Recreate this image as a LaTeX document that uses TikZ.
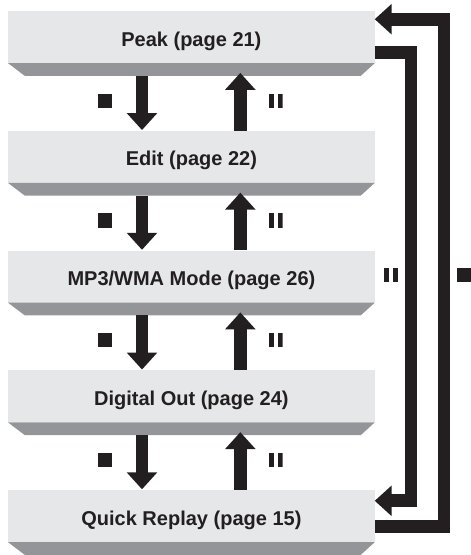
\documentclass[tikz,border=0pt]{standalone}
\usepackage{fontspec}
\setmainfont{Liberation Sans}
\usetikzlibrary{arrows.meta}
\definecolor{boxface}{HTML}{E6E7E8}
\definecolor{boxshade}{HTML}{939598}
\definecolor{ink}{HTML}{231F20}
\tikzset{
  stagebox/.style={rectangle, fill=boxface, minimum width=366.2pt, minimum height=52pt,
    inner sep=0pt, text height=18pt, text depth=0pt, text=ink,
    font=\fontsize{20pt}{24pt}\selectfont\bfseries},
  bigarrow/.style={draw=ink, line width=12.7pt, line join=miter,
    -{Triangle[width=29.6pt,length=17pt]}},
  stopsym/.style={rectangle, fill=ink, minimum size=14.3pt, inner sep=0pt},
  pausesym/.style={rectangle, minimum width=13.7pt, minimum height=14.3pt, inner sep=0pt,
    path picture={
      \fill[ink] (path picture bounding box.south west) rectangle ++(4.7pt,14.3pt);
      \fill[ink] (path picture bounding box.south east) rectangle ++(-4.7pt,14.3pt);
    }},
}
\begin{document}
\begin{tikzpicture}[x=1pt,y=-1pt]
\useasboundingbox (0,0) rectangle (471,555);
% stage boxes
\node[stagebox] (peak)  at (191.4,37)     {Peak (page 21)};
\node[stagebox] (edit)  at (191.4,156.75) {Edit (page 22)};
\node[stagebox] (mp3)   at (191.4,276.5)  {MP3/WMA Mode (page 26)};
\node[stagebox] (dig)   at (191.4,396.25) {Digital Out (page 24)};
\node[stagebox] (quick) at (191.4,516)    {Quick Replay (page 15)};
% shaded bottom faces
\foreach \b in {peak,edit,mp3,dig,quick}{
  \fill[boxshade] (\b.south west) -- (\b.south east) -- ++(-14pt,-12.7pt)
    -- ([xshift=16.7pt,yshift=-12.7pt]\b.south west) -- cycle;
}
% vertical arrows and their symbols
\foreach \a/\b in {peak/edit,edit/mp3,mp3/dig,dig/quick}{
  \draw[bigarrow] ([xshift=-49.4pt,yshift=-12.7pt]\a.south) -- ([xshift=-49.4pt,yshift=0.5pt]\b.north);
  \draw[bigarrow] ([xshift=48.9pt]\b.north) -- ([xshift=48.9pt,yshift=-9.7pt]\a.south);
  \node[stopsym]  (stop-\a)  at ([xshift=-86.6pt,yshift=-37.5pt]\a.south) {};
  \node[pausesym] (pause-\a) at ([xshift=84.4pt,yshift=-37.5pt]\a.south) {};
}
% right-hand loops
\draw[bigarrow] ([yshift=-15.5pt]peak.east) -| ([xshift=36.3pt,yshift=15.2pt]quick.east)
  -- ([yshift=15.2pt]quick.east);
\draw[bigarrow] ([yshift=-10.3pt]quick.east) -| ([xshift=69.2pt,yshift=17.8pt]peak.east)
  -- ([yshift=17.8pt]peak.east);
\node[pausesym] (pause-loop) at ([xshift=16.2pt,yshift=1.8pt]mp3.east) {};
\node[stopsym]  (stop-loop)  at ([xshift=89.8pt,yshift=1.8pt]mp3.east) {};
\end{tikzpicture}
\end{document}
